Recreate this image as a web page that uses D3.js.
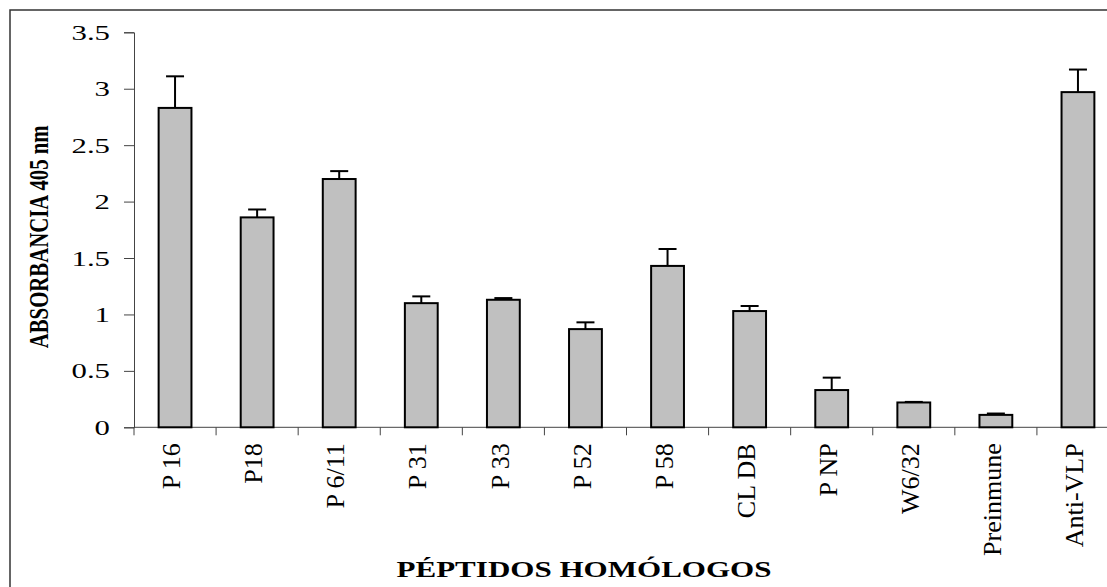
<!DOCTYPE html>
<html>
<head>
<meta charset="utf-8">
<script src="https://cdn.jsdelivr.net/npm/d3@7"></script>
<style>
  body { margin: 0; background: #fff; }
  svg { display: block; font-family: "Liberation Serif", "Times New Roman", serif; }
</style>
</head>
<body>
<div id="chart"></div>
<script>
// values
var categories = ["P 16", "P18", "P 6/11", "P 31", "P 33", "P 52", "P 58", "CL DB", "P NP", "W6/32", "Preinmune", "Anti-VLP"];
var absorbance = [2.83, 1.86, 2.20, 1.10, 1.13, 0.87, 1.43, 1.03, 0.33, 0.22, 0.11, 2.97];
var errors = [0.28, 0.07, 0.07, 0.06, 0.015, 0.06, 0.15, 0.045, 0.11, 0.005, 0.012, 0.20];
var yTicks = [0, 0.5, 1, 1.5, 2, 2.5, 3, 3.5];

var W = 1107, H = 587;
// plot box (the x axis runs past the right edge like the original)
var plotLeft = 134, plotRight = 1119, plotTop = 32.3, plotBottom = 427.3;

var svg = d3.select("#chart").append("svg")
  .attr("width", W)
  .attr("height", H);

// outer frame (runs off the right and bottom edges in the original)
svg.append("rect")
  .attr("x", 10).attr("y", 10)
  .attr("width", W + 20).attr("height", H + 20)
  .attr("fill", "none")
  .attr("stroke", "#333")
  .attr("stroke-width", 1.5);

var x = d3.scaleBand().domain(categories).range([plotLeft, plotRight]).paddingInner(0.6).paddingOuter(0.3);
var y = d3.scaleLinear().domain([0, 3.5]).range([plotBottom, plotTop]);

// y axis
var sx = 1.4;
var yAxis = svg.append("g")
  .attr("transform", "translate(" + plotLeft + ",0)")
  .call(d3.axisLeft(y).tickValues(yTicks).tickSize(10).tickFormat(function(d) { return String(d); }));
yAxis.select(".domain").attr("stroke", "#444");
yAxis.selectAll(".tick line").attr("stroke", "#444");
yAxis.selectAll(".tick text")
  .attr("x", -24 / sx)
  .attr("transform", "scale(" + sx + ",1)")
  .attr("font-size", 22)
  .attr("font-family", "Liberation Serif, Times New Roman, serif")
  .attr("fill", "#000");

// x axis line + boundary ticks
svg.append("line")
  .attr("x1", plotLeft).attr("x2", plotRight)
  .attr("y1", y(0)).attr("y2", y(0))
  .attr("stroke", "#444");
svg.selectAll("line.bt").data(d3.range(categories.length + 1)).enter().append("line")
  .attr("class", "bt")
  .attr("x1", function(i) { return plotLeft + i * x.step(); })
  .attr("x2", function(i) { return plotLeft + i * x.step(); })
  .attr("y1", y(0)).attr("y2", y(0) + 8)
  .attr("stroke", "#444");

// bars
svg.selectAll("rect.bar").data(categories).enter().append("rect")
  .attr("class", "bar")
  .attr("x", function(d) { return x(d); })
  .attr("y", function(d, i) { return y(absorbance[i]); })
  .attr("width", x.bandwidth())
  .attr("height", function(d, i) { return y(0) - y(absorbance[i]); })
  .attr("fill", "#c0c0c0")
  .attr("stroke", "#000")
  .attr("stroke-width", 2);

// error bars (upper only)
var cap = 18;
var eb = svg.selectAll("g.err").data(categories).enter().append("g").attr("class", "err");
eb.append("line")
  .attr("x1", function(d) { return x(d) + x.bandwidth() / 2; })
  .attr("x2", function(d) { return x(d) + x.bandwidth() / 2; })
  .attr("y1", function(d, i) { return y(absorbance[i]); })
  .attr("y2", function(d, i) { return y(absorbance[i] + errors[i]); })
  .attr("stroke", "#000").attr("stroke-width", 2);
eb.append("line")
  .attr("x1", function(d) { return x(d) + x.bandwidth() / 2 - cap / 2; })
  .attr("x2", function(d) { return x(d) + x.bandwidth() / 2 + cap / 2; })
  .attr("y1", function(d, i) { return y(absorbance[i] + errors[i]); })
  .attr("y2", function(d, i) { return y(absorbance[i] + errors[i]); })
  .attr("stroke", "#000").attr("stroke-width", 2);

// category labels, rotated
svg.selectAll("text.cat").data(categories).enter().append("text")
  .attr("class", "cat")
  .attr("transform", function(d) {
    return "translate(" + (x(d) + x.bandwidth() / 2) + "," + (y(0) + 16) + ") rotate(-90)";
  })
  .attr("text-anchor", "end")
  .attr("dy", "0.2em")
  .attr("font-size", 26)
  .text(function(d) { return d; });

// axis titles
svg.append("text")
  .attr("transform", "translate(48," + ((plotTop + plotBottom) / 2 + 7) + ") rotate(-90)")
  .attr("text-anchor", "middle")
  .attr("font-size", 27)
  .attr("font-weight", "bold")
  .attr("textLength", 223)
  .attr("lengthAdjust", "spacingAndGlyphs")
  .text("ABSORBANCIA 405 nm");

svg.append("text")
  .attr("x", 584)
  .attr("y", 577)
  .attr("text-anchor", "middle")
  .attr("font-size", 24)
  .attr("font-weight", "bold")
  .attr("textLength", 375)
  .attr("lengthAdjust", "spacingAndGlyphs")
  .text("PÉPTIDOS HOMÓLOGOS");
</script>
</body>
</html>
